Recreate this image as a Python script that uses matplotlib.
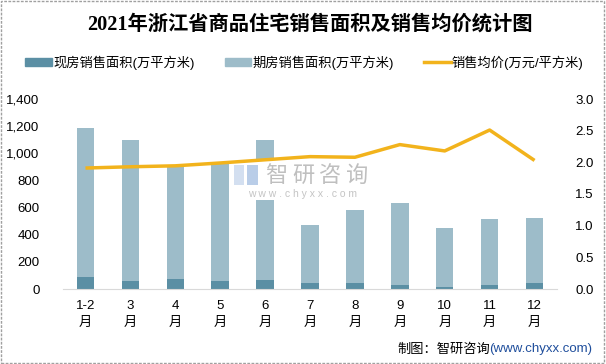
import numpy as np
import matplotlib.pyplot as plt
from matplotlib.patches import Rectangle
from matplotlib.lines import Line2D

# data
months = ['1-2\n月', '3\n月', '4\n月', '5\n月', '6\n月', '7\n月', '8\n月', '9\n月', '10\n月', '11\n月', '12\n月']
xianfang = [90, 61, 76, 56, 68, 46, 46, 32, 17, 32, 46]          # 现房销售面积
qifang = [1095, 1038, 822, 869, 1031, 427, 538, 603, 434, 485, 479]  # 期房销售面积
price = [1.91, 1.93, 1.945, 1.99, 2.04, 2.09, 2.08, 2.28, 2.18, 2.51, 2.03]  # 销售均价

left_ticks = [0, 200, 400, 600, 800, 1000, 1200, 1400]
right_ticks = [0.0, 0.5, 1.0, 1.5, 2.0, 2.5, 3.0]

CJK = ['Liberation Sans', 'Noto Sans CJK SC']
DARK = '#5b8fa4'
LIGHT = '#9dbcc9'
GOLD = '#f2b31c'

plt.rcParams['font.family'] = CJK

fig = plt.figure(figsize=(6.06, 3.64), dpi=100)
ax = fig.add_axes([63/606, 1-289/364, 494/606, 190/364])
x = np.arange(len(months))
ax.bar(x, xianfang, width=0.39, color=DARK, zorder=2)
ax.bar(x, qifang, width=0.39, bottom=xianfang, color=LIGHT, zorder=2)
ax.set_xlim(-0.5, len(months) - 0.5)
ax.set_ylim(0, 1400)
ax.set_yticks(left_ticks)
ax.set_yticklabels([f'{v:,}' for v in left_ticks], fontsize=9.5)
ax.set_xticks(x)
ax.set_xticklabels(months, fontsize=9.5, linespacing=1.5)
ax.tick_params(axis='both', length=0)
ax.tick_params(axis='y', pad=17)
ax.tick_params(axis='x', pad=8)
for s in ['top', 'left', 'right']:
    ax.spines[s].set_visible(False)
ax.spines['bottom'].set_color('#d9d9d9')

ax2 = ax.twinx()
ax2.plot(x, price, color=GOLD, lw=2.5, solid_capstyle='butt', zorder=5)
ax2.set_ylim(0, 3.0)
ax2.set_yticks(right_ticks)
ax2.set_yticklabels([f'{v:.1f}' for v in right_ticks], fontsize=9.5)
ax2.tick_params(axis='y', length=0, pad=13)
for s in ['top', 'left', 'right', 'bottom']:
    ax2.spines[s].set_visible(False)
ax.set_zorder(1)
ax2.set_zorder(2)

# watermark (white box hides part of bar 6, price line stays on top)
tf = fig.transFigure
ax.add_patch(Rectangle((229/606, 1-200/364), 146/606, 40/364, transform=tf,
                       facecolor='white', edgecolor='none', zorder=3, clip_on=False))
ax.add_patch(Rectangle((234/606, 1-185/364), 10/606, 20/364, transform=tf,
                       facecolor='#d3dff0', edgecolor='none', zorder=4, clip_on=False))
ax.add_patch(Rectangle((247/606, 1-185/364), 11/606, 20/364, transform=tf,
                       facecolor='#b9cde8', edgecolor='none', zorder=4, clip_on=False))
for i, ch in enumerate('智研咨询'):
    ax.text((276 + 27*i)/606, 1-175/364, ch, fontsize=16, color='#bfbfbf', ha='center', va='center',
            family=['Noto Sans CJK SC'], transform=tf, zorder=4)
ax.text(303/606, 1-194/364, 'w w w . c h y x x . c o m', fontsize=7.5, color='#c4c4c4',
        ha='center', va='center', transform=tf, zorder=4)

fig.text(310/606, 1-25/364, '2021年浙江省商品住宅销售面积及销售均价统计图', fontsize=14.6,
         fontweight='bold', ha='center', va='center',
         family=['Liberation Serif', 'Noto Sans CJK SC'])

handles = [Rectangle((0, 0), 1, 1, color=DARK), Rectangle((0, 0), 1, 1, color=LIGHT),
           Line2D([], [], color=GOLD, lw=2.5)]
labels = ['现房销售面积(万平方米)', '期房销售面积(万平方米)', '销售均价(万元/平方米)']
fig.legend(handles, labels, loc='center', bbox_to_anchor=(0.5025, 1-62.5/364), ncol=3, frameon=False,
           fontsize=9.5, handlelength=2.0, handleheight=0.55, handletextpad=0.1, columnspacing=2.3)

fig.text(489/606, 1-349/364, '(www.chyxx.com)', fontsize=9.5, color='#1f4e9c', ha='left', va='center')
fig.text(490/606, 1-349/364, '制图：智研咨询', fontsize=9.5, color='black', ha='right', va='center',
         family=['Noto Sans CJK SC'])

fig.patches.append(Rectangle((0.002, 0.003), 0.995, 0.994, transform=tf, fill=False,
                             edgecolor='#a0a0a0', lw=1, ls=(0, (2, 1))))

fig.savefig('out.png', dpi=100)
